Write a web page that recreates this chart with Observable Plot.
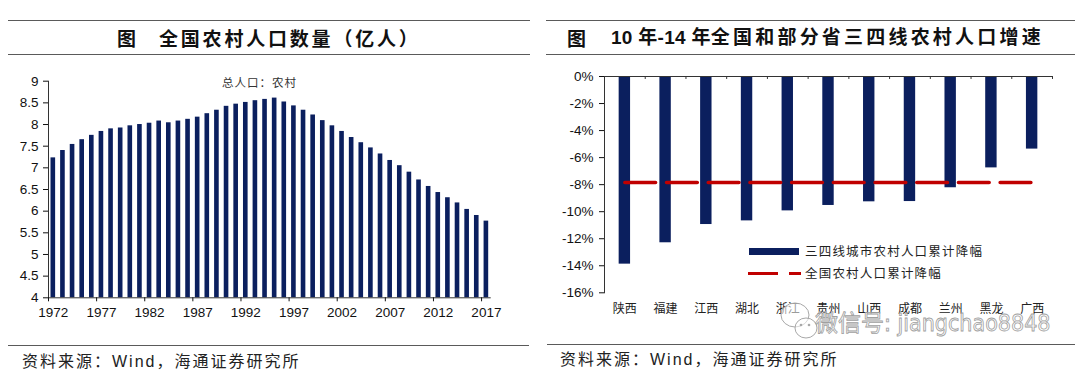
<!DOCTYPE html>
<html><head><meta charset="utf-8">
<script src="https://cdn.jsdelivr.net/npm/d3@7"></script>
<script src="https://cdn.jsdelivr.net/npm/@observablehq/plot@0.6"></script>
<style>
html,body{margin:0;padding:0;background:#fff;}
#page{position:relative;width:1080px;height:380px;overflow:hidden;font-family:"Liberation Sans","Noto Sans CJK SC",sans-serif;color:#111;}
.hline{position:absolute;height:0;border-top:1.3px solid #5a5a5a;}
.abs{position:absolute;white-space:nowrap;line-height:1;}
.chart{position:absolute;}
.chart svg{overflow:visible;}
</style></head>
<body><div id="page"></div>
<script>
// ---------- data ----------
const years = [1972,1973,1974,1975,1976,1977,1978,1979,1980,1981,1982,1983,1984,1985,1986,1987,1988,1989,1990,1991,1992,1993,1994,1995,1996,1997,1998,1999,2000,2001,2002,2003,2004,2005,2006,2007,2008,2009,2010,2011,2012,2013,2014,2015,2016,2017];
const ruralPop = [7.23,7.40,7.54,7.65,7.75,7.84,7.90,7.92,7.97,8.00,8.03,8.08,8.04,8.08,8.12,8.17,8.25,8.33,8.42,8.47,8.51,8.55,8.58,8.61,8.52,8.43,8.33,8.22,8.09,7.97,7.84,7.70,7.58,7.46,7.32,7.17,7.05,6.90,6.72,6.57,6.43,6.31,6.19,6.04,5.90,5.77];
const leftXTicks = [1972,1977,1982,1987,1992,1997,2002,2007,2012,2017];
const leftYTicks = [4,4.5,5,5.5,6,6.5,7,7.5,8,8.5,9];

const provinces = ["陕西","福建","江西","湖北","浙江","贵州","山西","成都","兰州","黑龙","广西"];
const cityDecline = [-13.88,-12.30,-10.95,-10.68,-9.94,-9.54,-9.27,-9.25,-8.23,-6.76,-5.37];
const nationalDecline = -7.84;
const rightYTicks = [0,-2,-4,-6,-8,-10,-12,-14,-16];

const navy = "#0b1f5e";
const red = "#c00000";
const page = document.getElementById("page");

function add(html){ page.insertAdjacentHTML("beforeend", html); }

// ---------- frame lines & titles ----------
add(`<div class="hline" style="left:8px;width:522px;top:20px"></div>`);
add(`<div class="hline" style="left:8px;width:522px;top:54px"></div>`);
add(`<div class="hline" style="left:8px;width:521px;top:345px"></div>`);
add(`<div class="hline" style="left:546px;width:529px;top:20px"></div>`);
add(`<div class="hline" style="left:546px;width:529px;top:54px"></div>`);
add(`<div class="hline" style="left:547px;width:528px;top:343.5px"></div>`);

add(`<div class="abs" style="left:117px;top:28px;font-size:19px;font-weight:bold;font-family:'Noto Sans CJK SC'">图</div>`);
add(`<div class="abs" style="left:159px;top:28px;font-size:19px;font-weight:bold;letter-spacing:2.8px;font-family:'Noto Sans CJK SC'">全国农村人口数量（亿人）</div>`);
add(`<div class="abs" style="left:567px;top:28px;font-size:19px;font-weight:bold;font-family:'Noto Sans CJK SC'">图</div>`);
add(`<div class="abs" style="left:611px;top:28px;font-size:19px;font-weight:bold;letter-spacing:0.3px;font-family:'Liberation Sans','Noto Sans CJK SC'">10 年-14 年<span style="letter-spacing:3.2px">全国和部分省三四线农村人口增速</span></div>`);

add(`<div class="abs" style="left:22px;top:354px;font-size:16px;letter-spacing:2px;color:#222">资料来源：Wind，海通证券研究所</div>`);
add(`<div class="abs" style="left:560px;top:352px;font-size:16px;letter-spacing:2px;color:#222">资料来源：Wind，海通证券研究所</div>`);

// ---------- left chart ----------
const L = {w:530, h:270, ml:48, mr:39.3, mt:20.7, mb:32.7};
const stepL = (L.w - L.ml - L.mr) / years.length;
const leftData = years.map((y,i) => ({year:y, v:ruralPop[i]}));
const left = Plot.plot({
  width:L.w, height:L.h, marginLeft:L.ml, marginRight:L.mr, marginTop:L.mt, marginBottom:L.mb,
  x:{type:"band", domain:years, paddingInner:0.52, paddingOuter:0.26, round:false},
  y:{domain:[4,9]},
  style:{fontFamily:"Liberation Sans", fontSize:"13.5px", color:"#111", background:"transparent"},
  marks:[
    Plot.barY(leftData, {x:"year", y1:4, y2:"v", fill:navy}),
    Plot.frame({anchor:"left", stroke:"#333"}),
    Plot.ruleY([4], {stroke:"#333"}),
    Plot.axisY({ticks:leftYTicks, tickSize:5, tickPadding:5, tickFormat:d=>String(d), label:null, fontSize:13.5}),
    Plot.axisX({ticks:leftXTicks, tickSize:0, tickPadding:10, tickFormat:d=>String(d), label:null, fontSize:13.5}),
    Plot.axisX({ticks:leftXTicks, tickSize:4, tickFormat:()=>"", label:null, dx:-stepL/2})
  ]
});
const lw = document.createElement("div"); lw.className="chart"; lw.style.left="0px"; lw.style.top="60px";
lw.appendChild(left); page.appendChild(lw);
add(`<div class="abs" style="left:222px;top:77px;font-size:11.5px;letter-spacing:1px;color:#333;font-family:'Noto Sans CJK SC'">总人口：农村</div>`);

// ---------- right chart ----------
const R = {w:540, h:270, ml:64, mr:28, mt:16, mb:37.7};
const stepR = (R.w - R.ml - R.mr) / provinces.length;
const rightData = provinces.map((p,i) => ({p, v:cityDecline[i]}));
const right = Plot.plot({
  width:R.w, height:R.h, marginLeft:R.ml, marginRight:R.mr, marginTop:R.mt, marginBottom:R.mb,
  x:{type:"band", domain:provinces, paddingInner:0.72, paddingOuter:0.36, round:false},
  y:{domain:[-16,0]},
  style:{fontFamily:"Liberation Sans", fontSize:"13.5px", color:"#111", background:"transparent"},
  marks:[
    Plot.barY(rightData, {x:"p", y1:0, y2:"v", fill:navy}),
    Plot.lineY(provinces, {x:d=>d, y:()=>nationalDecline, stroke:red, strokeWidth:3.6, strokeDasharray:"30.7,11"}),
    Plot.ruleY([0], {stroke:"#333"}),
    Plot.frame({anchor:"left", stroke:"#333"}),
    Plot.ruleX(provinces, {x:d=>d, y1:0, y2:-0.22, dx:-stepR/2, stroke:"#333"}),
    Plot.ruleX(provinces.slice(-1), {x:d=>d, y1:0, y2:-0.22, dx:stepR/2, stroke:"#333"}),
    Plot.axisY({ticks:rightYTicks, tickSize:5, tickPadding:6, tickFormat:d=>d+"%", label:null, fontSize:13.5}),
    Plot.axisX({anchor:"bottom", tickSize:0, tickPadding:12, label:null, fontFamily:"Noto Sans CJK SC", fontSize:12, fill:"#222"})
  ]
});
const rw = document.createElement("div"); rw.className="chart"; rw.style.left="540px"; rw.style.top="60px";
rw.appendChild(right); page.appendChild(rw);

// legend (inside plot area)
add(`<div class="abs" style="left:749px;top:247.5px;width:50px;height:7px;background:${navy}"></div>`);
add(`<div class="abs" style="left:805px;top:245px;font-size:12.5px;letter-spacing:1.2px;color:#222;font-family:'Noto Sans CJK SC'">三四线城市农村人口累计降幅</div>`);
add(`<div class="abs" style="left:748px;top:271.5px;width:30px;height:3.6px;background:${red}"></div>`);
add(`<div class="abs" style="left:788.5px;top:271.5px;width:12px;height:3.6px;background:${red}"></div>`);
add(`<div class="abs" style="left:805px;top:267px;font-size:12.5px;letter-spacing:1.2px;color:#222;font-family:'Noto Sans CJK SC'">全国农村人口累计降幅</div>`);

// watermark
add(`<svg class="abs" style="left:768px;top:295px" width="300" height="55">
 <g fill="rgba(255,255,255,0.55)" stroke="#a8a8a8" stroke-width="1">
  <ellipse cx="27" cy="20" rx="14" ry="12"/>
  <ellipse cx="38" cy="33" rx="11" ry="10"/>
 </g>
 <g fill="#a8a8a8"><circle cx="33" cy="30" r="1.3"/><circle cx="41" cy="30" r="1.3"/></g>
 <text x="47" y="36" font-size="23" font-family="Liberation Sans Narrow, DejaVu Sans Condensed, Noto Sans CJK SC" fill="rgba(255,255,255,0.55)" stroke="#a0a0a0" stroke-width="0.8">微信号: jiangchao8848</text>
</svg>`);
</script>
</body></html>
